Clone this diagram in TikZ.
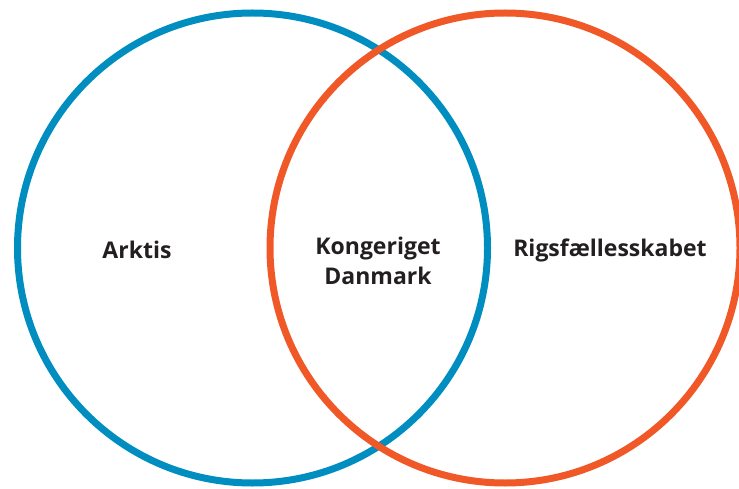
\documentclass[tikz,border=0pt]{standalone}
\usepackage{fontspec}
\setsansfont{Open Sans}
\usetikzlibrary{positioning}
\definecolor{arkblue}{RGB}{0,142,192}
\definecolor{rigred}{RGB}{240,88,40}
\definecolor{txtgrey}{RGB}{35,31,32}

\begin{document}
\begin{tikzpicture}[x=1pt,y=1pt,
  ring/.style={line width=7pt},
  lbl/.style={font=\sffamily\bfseries\fontsize{23}{30}\selectfont,text=txtgrey,align=center}]

  \useasboundingbox (0,0) rectangle (739,488);
  \clip (0,0) rectangle (739,488);

  % the two sets
  \coordinate (cblue) at (252.5,240);
  \coordinate (cred) at (505,240);
  \draw[ring,draw=arkblue] (cblue) circle (235);
  \draw[ring,draw=rigred] (cred) circle (235);

  % labels
  \node[lbl] (arktis) at (137,238) {Arktis};
  \node[lbl] (rige) at (378,227) {Kongeriget\\Danmark};
  \node[lbl] (rigsf) at (610,238) {Rigsfællesskabet};

\end{tikzpicture}
\end{document}
